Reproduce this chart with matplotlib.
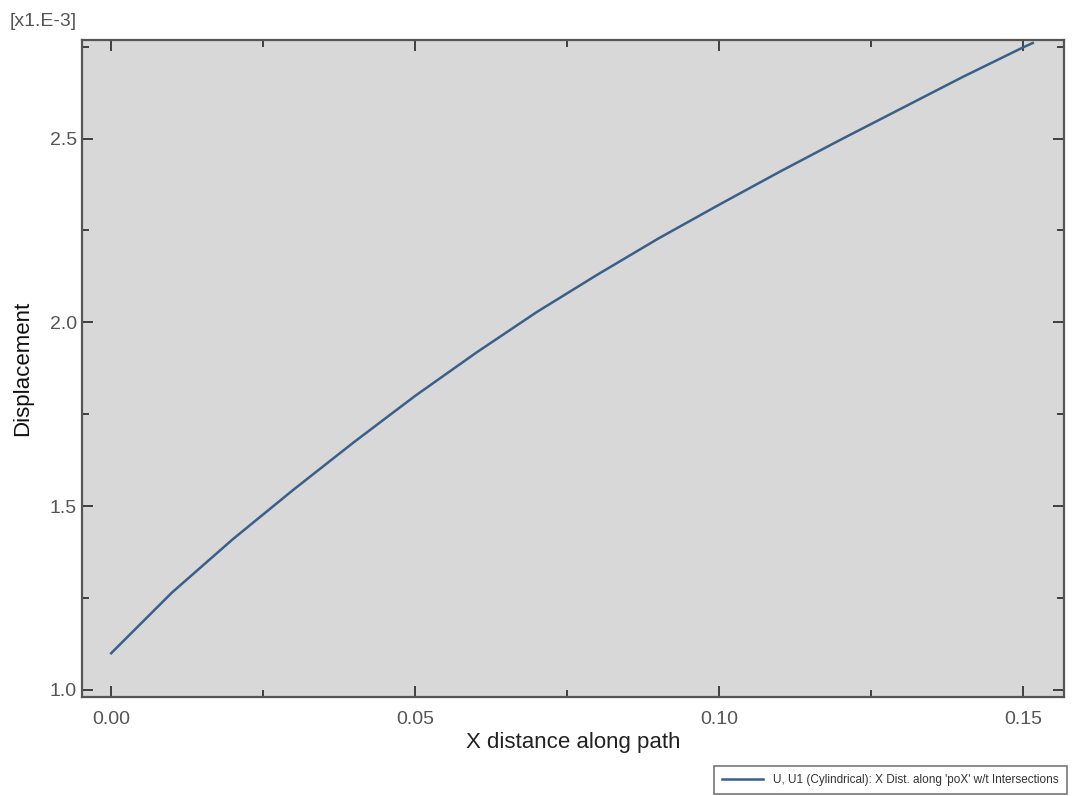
import matplotlib
matplotlib.use("Agg")
import matplotlib.pyplot as plt
from matplotlib.ticker import MultipleLocator, FormatStrFormatter

plt.rcParams['font.family'] = ['Liberation Sans', 'DejaVu Sans']

# path distance and U1 displacement (x1.E-3)
dist = [0.00, 0.01, 0.02, 0.03, 0.04, 0.05, 0.06, 0.07, 0.08, 0.09,
        0.10, 0.11, 0.12, 0.13, 0.14, 0.15, 0.1516]
disp = [1.100, 1.265, 1.410, 1.545, 1.675, 1.800, 1.917, 2.028, 2.130, 2.228,
        2.320, 2.410, 2.497, 2.582, 2.667, 2.748, 2.760]
series_name = "U, U1 (Cylindrical): X Dist. along 'poX' w/t Intersections"

fig = plt.figure(figsize=(10.8, 7.96), dpi=100)
ax = fig.add_axes([0.0759, 0.1244, 0.9091, 0.8253])
ax.set_facecolor('#d8d8d8')

line, = ax.plot(dist, disp, color='#3a5f88', lw=1.8)

ax.set_xlim(-0.0048, 0.1567)
ax.set_ylim(0.981, 2.768)
ax.xaxis.set_major_locator(MultipleLocator(0.05))
ax.xaxis.set_minor_locator(MultipleLocator(0.025))
ax.yaxis.set_major_locator(MultipleLocator(0.5))
ax.yaxis.set_minor_locator(MultipleLocator(0.25))
ax.xaxis.set_major_formatter(FormatStrFormatter('%.2f'))
ax.yaxis.set_major_formatter(FormatStrFormatter('%.1f'))

ax.tick_params(which='both', direction='in', top=True, right=True,
               colors='#333333', labelcolor='#555555', labelsize=14)
ax.tick_params(axis='x', pad=10)
ax.tick_params(which='major', length=8, width=1.3)
ax.tick_params(which='minor', length=5, width=1.3)
for s in ax.spines.values():
    s.set_color('#555555')
    s.set_linewidth(1.6)

ax.set_xlabel("X distance along path", fontsize=16, color='#222222', labelpad=3)
ax.set_ylabel("Displacement", fontsize=16, color='#111111', labelpad=12)

fig.text(10 / 1080, 1 - 22 / 796, "[x1.E-3]", fontsize=14, color='#555555',
         va='center', ha='left')

leg = fig.legend([line], [series_name], loc='upper left',
                 bbox_to_anchor=(708 / 1080, 1 - 760 / 796), fontsize=8.5,
                 frameon=True, fancybox=False, handlelength=3.5,
                 borderpad=0.7, labelcolor='#333333')
leg.get_frame().set_edgecolor('#555555')
leg.get_frame().set_linewidth(1.2)

fig.savefig("out.png", dpi=100)
